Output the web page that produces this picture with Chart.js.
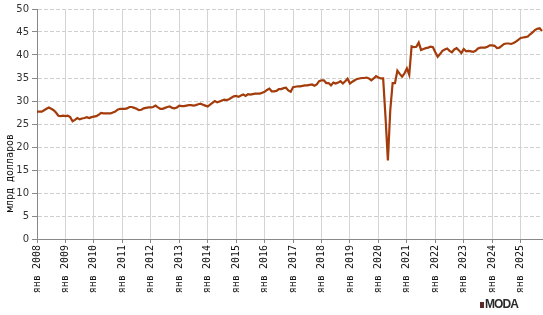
<!DOCTYPE html>
<html><head><meta charset="utf-8">
<script src="https://cdn.jsdelivr.net/npm/chart.js@4"></script>
<style>
html,body{margin:0;padding:0;background:#fff;}
#wrap{position:relative;width:543px;height:315px;}
#logo{position:absolute;left:480px;top:298px;font-family:"Liberation Sans",Arial,sans-serif;font-weight:bold;font-size:12px;color:#2a2a2a;letter-spacing:-0.9px;line-height:12px;}
#logo span{display:inline-block;width:4px;height:6px;background:#5a2a2a;margin-right:1px;vertical-align:0px;}
</style></head>
<body><div id="wrap"><canvas id="c" width="543" height="315"></canvas><div id="logo"><span></span>MODA</div></div>
<script>
const startYear = 2008;
const v2008 = [27.7, 27.7, 27.7, 28.0, 28.3, 28.6, 28.3, 28.0, 27.5, 26.8, 26.7, 26.8];
const v2009 = [26.7, 26.8, 26.5, 25.6, 25.9, 26.3, 26.0, 26.2, 26.3, 26.5, 26.3, 26.5];
const v2010 = [26.6, 26.7, 27.0, 27.4, 27.3, 27.3, 27.3, 27.3, 27.5, 27.7, 28.1, 28.3];
const v2011 = [28.3, 28.3, 28.4, 28.7, 28.7, 28.5, 28.3, 28.0, 28.1, 28.4, 28.5, 28.6];
const v2012 = [28.6, 28.7, 29.0, 28.6, 28.3, 28.3, 28.5, 28.7, 28.8, 28.5, 28.4, 28.6];
const v2013 = [29.0, 28.9, 28.9, 29.0, 29.1, 29.1, 29.0, 29.1, 29.3, 29.4, 29.2, 29.0];
const v2014 = [28.8, 29.2, 29.6, 30.0, 29.7, 29.9, 30.1, 30.3, 30.2, 30.4, 30.7, 31.0];
const v2015 = [31.1, 30.9, 31.2, 31.4, 31.1, 31.5, 31.4, 31.5, 31.6, 31.6, 31.6, 31.8];
const v2016 = [32.0, 32.4, 32.7, 32.1, 32.1, 32.2, 32.6, 32.6, 32.8, 32.9, 32.3, 32.0];
const v2017 = [33.0, 33.1, 33.2, 33.2, 33.3, 33.4, 33.4, 33.5, 33.6, 33.3, 33.6, 34.3];
const v2018 = [34.5, 34.5, 33.9, 33.9, 33.4, 34.0, 33.8, 34.0, 34.3, 33.8, 34.3, 34.85];
const v2019 = [33.8, 34.2, 34.5, 34.8, 34.9, 35.0, 35.0, 35.1, 34.9, 34.5, 34.9, 35.4];
const v2020 = [35.1, 34.9, 34.9, 26.5, 17.1, 28.0, 33.9, 33.9, 36.6, 35.9, 35.3, 36.0];
const v2021 = [37.1, 35.7, 41.9, 41.7, 41.8, 42.7, 41.1, 41.3, 41.5, 41.6, 41.8, 41.7];
const v2022 = [40.6, 39.6, 40.2, 40.9, 41.2, 41.4, 40.9, 40.6, 41.2, 41.5, 41.0, 40.4];
const v2023 = [41.3, 40.8, 40.9, 40.8, 40.7, 40.9, 41.4, 41.6, 41.6, 41.6, 41.8, 42.1];
const v2024 = [42.1, 42.0, 41.5, 41.6, 42.0, 42.4, 42.5, 42.5, 42.4, 42.6, 42.9, 43.3];
const v2025 = [43.7, 43.8, 43.9, 44.0, 44.5, 44.9, 45.4, 45.7, 45.8, 45.2];
const monthNames = ['янв','фев','мар','апр','май','июн','июл','авг','сен','окт','ноя','дек'];
const yTicks = [0,5,10,15,20,25,30,35,40,45,50];
const yTitle = 'млрд долларов';

const values = [].concat(v2008,v2009,v2010,v2011,v2012,v2013,v2014,v2015,v2016,v2017,v2018,v2019,v2020,v2021,v2022,v2023,v2024,v2025);
const labels = values.map((_, i) => monthNames[i % 12] + ' ' + (startYear + Math.floor(i / 12)));

const titlePlugin = {
  id: 'ytitle',
  afterDraw(chart) {
    const ctx = chart.ctx;
    ctx.save();
    ctx.translate(10, 173);
    ctx.rotate(-Math.PI / 2);
    ctx.font = '10px "DejaVu Sans Mono"';
    ctx.fillStyle = '#111';
    ctx.textAlign = 'center';
    ctx.textBaseline = 'middle';
    ctx.fillText(yTitle, 0, 0);
    ctx.restore();
  }
};

new Chart(document.getElementById('c'), {
  type: 'line',
  data: { labels, datasets: [{ data: values, borderColor: '#a33b0b', borderWidth: 2.2, pointRadius: 0, tension: 0, fill: false }] },
  options: {
    responsive: false, animation: false, devicePixelRatio: 1,
    layout: { padding: { top: 0, right: 1, left: 0, bottom: 0 } },
    plugins: { legend: { display: false }, tooltip: { enabled: false } },
    scales: {
      x: {
        type: 'category', offset: false,
        grid: { color: '#d4d4d4', lineWidth: 1, tickLength: 4, tickColor: '#888' },
        border: { color: '#888', width: 1 },
        ticks: {
          autoSkip: false, maxRotation: 90, minRotation: 90, padding: 2,
          font: { family: '"DejaVu Sans Mono"', size: 10 }, color: '#111',
          callback: function (val, idx) { return idx % 12 === 0 ? labels[idx] : null; }
        },
        afterFit(scale) { scale.height = 76; }
      },
      y: {
        min: 0, max: 50,
        afterBuildTicks(scale) { scale.ticks = yTicks.map(v => ({ value: v })); },
        grid: { color: '#d0d0d0', lineWidth: 1, tickLength: 5, tickColor: '#888' },
        border: { color: '#888', width: 1, dash: [4, 2] },
        ticks: { padding: 3, font: { family: '"DejaVu Sans"', size: 10 }, color: '#333' },
        afterFit(scale) { scale.width = 37; }
      }
    }
  },
  plugins: [titlePlugin]
});
</script>
</body></html>
